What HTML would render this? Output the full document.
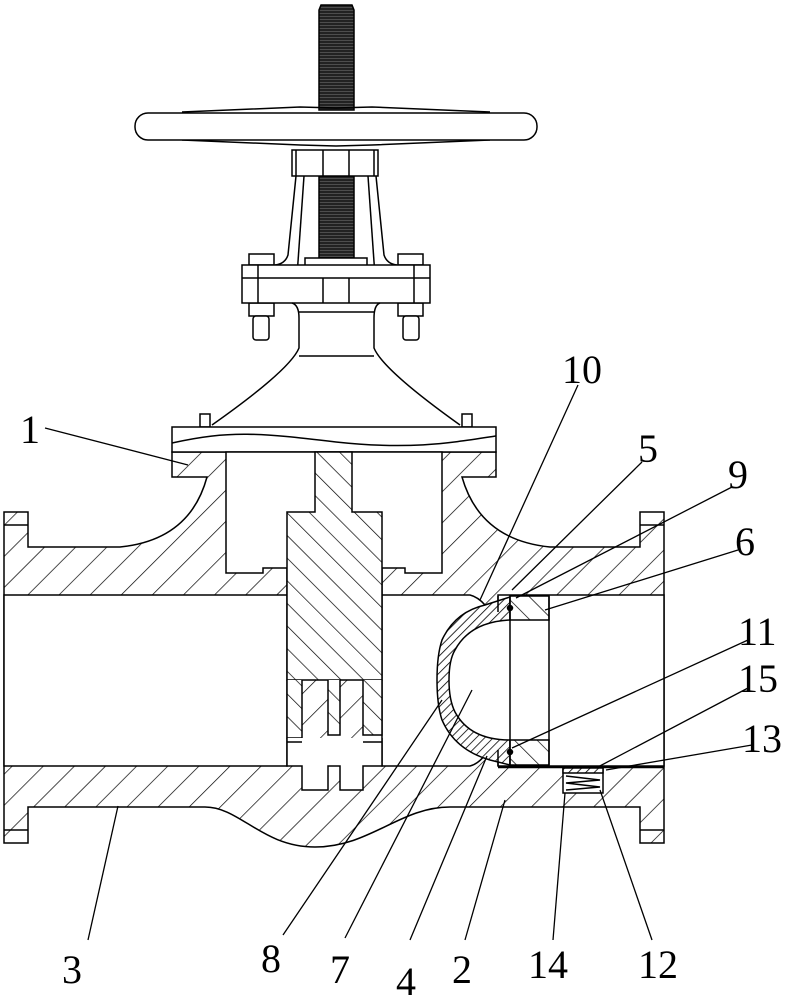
<!DOCTYPE html>
<html><head><meta charset="utf-8"><style>
html,body{margin:0;padding:0;background:#fff;}
svg{display:block}
text{font-family:"Liberation Serif",serif;font-size:40px;fill:#000;}
</style></head><body>
<svg width="789" height="1000" viewBox="0 0 789 1000" xmlns="http://www.w3.org/2000/svg">
<defs>
<pattern id="h1" patternUnits="userSpaceOnUse" width="22" height="22" patternTransform="rotate(45)">
<rect width="22" height="22" fill="#fff"/><line x1="0" y1="0" x2="0" y2="22" stroke="#000" stroke-width="1.4"/></pattern>
<pattern id="h2" patternUnits="userSpaceOnUse" width="16" height="16" patternTransform="rotate(-45)">
<rect width="16" height="16" fill="#fff"/><line x1="0" y1="0" x2="0" y2="16" stroke="#000" stroke-width="1.4"/></pattern>
<pattern id="h3" patternUnits="userSpaceOnUse" width="6" height="6" patternTransform="rotate(45)">
<rect width="6" height="6" fill="#fff"/><line x1="0" y1="0" x2="0" y2="6" stroke="#000" stroke-width="1.6"/></pattern>
<pattern id="th" patternUnits="userSpaceOnUse" width="35" height="3">
<rect width="35" height="3" fill="#222"/><line x1="0" y1="1.5" x2="35" y2="1.5" stroke="#777" stroke-width="0.6"/></pattern>
</defs>
<g fill="none" stroke="#000" stroke-width="1.5">
<path d="M319,10 L321,5 L352,5 L354,10 L354,110 L319,110 Z" fill="url(#th)"/>
<rect x="319" y="176" width="35" height="82" fill="url(#th)"/>
<path d="M182,112 L300,107 L336,108 L372,107 L490,112" />
<path d="M182,140 L300,145 L336,146 L372,145 L490,140" />
<rect x="135" y="113" width="402" height="27" rx="13" fill="#fff"/>
<rect x="292" y="150" width="86" height="26" fill="#fff"/>
<line x1="323" y1="150" x2="323" y2="176"/><line x1="349" y1="150" x2="349" y2="176"/>
<line x1="296" y1="150" x2="296" y2="176"/><line x1="374" y1="150" x2="374" y2="176"/>
<path d="M296,176 L288,255 Q285,264 275,265"/><path d="M304,176 L297,276"/>
<path d="M376,176 L384,255 Q387,264 397,265"/><path d="M368,176 L375,276"/>
<rect x="305" y="258" width="62" height="20" fill="#fff"/>
<rect x="249" y="254" width="25" height="11" fill="#fff"/><rect x="398" y="254" width="25" height="11" fill="#fff"/>
<rect x="249" y="303" width="25" height="13" fill="#fff"/><rect x="398" y="303" width="25" height="13" fill="#fff"/>
<rect x="253" y="316" width="16" height="24" rx="3" fill="#fff"/><rect x="403" y="316" width="16" height="24" rx="3" fill="#fff"/>
<rect x="242" y="265" width="188" height="38" fill="#fff"/>
<line x1="242" y1="278" x2="430" y2="278"/>
<line x1="258" y1="265" x2="258" y2="303"/><line x1="414" y1="265" x2="414" y2="303"/>
<line x1="323" y1="278" x2="323" y2="303"/><line x1="349" y1="278" x2="349" y2="303"/>
<path d="M292,303 Q299,305 299,318 L299,348 Q290,370 212,425 M380,303 Q374,305 374,318 L374,348 Q383,370 460,425" />
<line x1="299" y1="312" x2="374" y2="312"/><line x1="299" y1="356" x2="374" y2="356"/>
<rect x="200" y="414" width="10" height="13"/><rect x="462" y="414" width="10" height="13"/>
<path d="M4,512 L28,512 L28,547 L120,547 Q190,540 207,477 L172,477 L172,452 L496,452 L496,477 L462,477 Q480,540 550,547 L640,547 L640,512 L664,512 L664,843 L640,843 L640,807 L450,807 C400,807 370,847 315,847 C262,847 240,807 205,807 L28,807 L28,843 L4,843 Z" fill="url(#h1)"/>
<line x1="4" y1="525" x2="28" y2="525"/><line x1="640" y1="525" x2="664" y2="525"/>
<line x1="4" y1="830" x2="28" y2="830"/><line x1="640" y1="830" x2="664" y2="830"/>
<rect x="172" y="427" width="324" height="25" fill="#fff"/>
<path d="M172,443 C230,430 260,433 336,442 C410,450 450,443 496,436"/>
<path d="M226,452 L226,573 L263,573 L263,568 L287,568 L287,595 L382,595 L382,568 L405,568 L405,573 L442,573 L442,452 Z" fill="#fff"/>
<path d="M4,595 L287,595 L287,766 L4,766 Z" fill="#fff"/>
<path d="M382,595 L470,595 Q478,597 485,605 L498,605 L498,595 L664,595 L664,766 L498,766 L498,755 L485,755 Q478,764 470,766 L382,766 Z" fill="#fff"/>
<path d="M315,452 L352,452 L352,512 L382,512 L382,680 L287,680 L287,512 L315,512 Z" fill="url(#h2)"/>
<path d="M287,680 L287,738 L302,738 L302,680 M328,680 L328,735 L340,735 L340,680 M363,680 L363,735 L382,735 L382,680" fill="url(#h2)"/>
<path d="M287,738 L287,766 L302,766 L302,790 L328,790 L328,766 L340,766 L340,790 L363,790 L363,766 L382,766 L382,738" fill="#fff"/>
<path d="M287,742 L302,742 M363,742 L382,742"/>
<path d="M485,605 L510,597 L510,620 Q470,622 455,650 Q449,660 449,680 Q449,700 455,712 Q470,740 510,740 L510,765 L490,760 Q455,750 442,720 Q437,705 437,680 Q437,655 442,640 Q455,612 485,605 Z" fill="url(#h3)"/>
<line x1="498" y1="596" x2="498" y2="612"/><line x1="498" y1="750" x2="498" y2="766"/>
<path d="M510,596 L549,596 L549,620 L510,620 Z" fill="url(#h2)"/>
<path d="M510,740 L549,740 L549,765 L510,765 Z" fill="url(#h2)"/>
<line x1="510" y1="596" x2="510" y2="765"/><line x1="549" y1="596" x2="549" y2="765"/>
<line x1="498" y1="767" x2="664" y2="767" stroke-width="2.5"/>
<circle cx="510" cy="608" r="2.5" fill="#000"/><circle cx="510" cy="752" r="2.5" fill="#000"/>
<rect x="563" y="768" width="40" height="25" fill="#fff"/>
<rect x="563" y="768" width="40" height="5" fill="url(#h3)"/>
<path d="M566,776 L600,780 L566,783 L600,787 L566,790"/>
<g stroke-width="1.3">
<path d="M45,428 L188,465"/>
<path d="M578,385 L480,600"/>
<path d="M642,462 L512,590"/>
<path d="M732,487 L516,598"/>
<path d="M738,550 L545,610"/>
<path d="M748,640 L512,748"/>
<path d="M748,688 L596,768"/>
<path d="M752,745 L606,770"/>
<path d="M88,940 L118,806"/>
<path d="M283,935 L442,700"/>
<path d="M345,938 L472,690"/>
<path d="M410,940 L487,756"/>
<path d="M465,940 L505,800"/>
<path d="M553,940 L565,793"/>
<path d="M652,940 L600,790"/>
</g>
</g>
<g>
<text x="20" y="443">1</text>
<text x="562" y="383">10</text>
<text x="638" y="462">5</text>
<text x="728" y="488">9</text>
<text x="735" y="555">6</text>
<text x="738" y="645">11</text>
<text x="738" y="692">15</text>
<text x="742" y="752">13</text>
<text x="62" y="983">3</text>
<text x="261" y="972">8</text>
<text x="330" y="983">7</text>
<text x="396" y="995">4</text>
<text x="452" y="983">2</text>
<text x="528" y="978">14</text>
<text x="638" y="978">12</text>
</g>
</svg>
</body></html>
